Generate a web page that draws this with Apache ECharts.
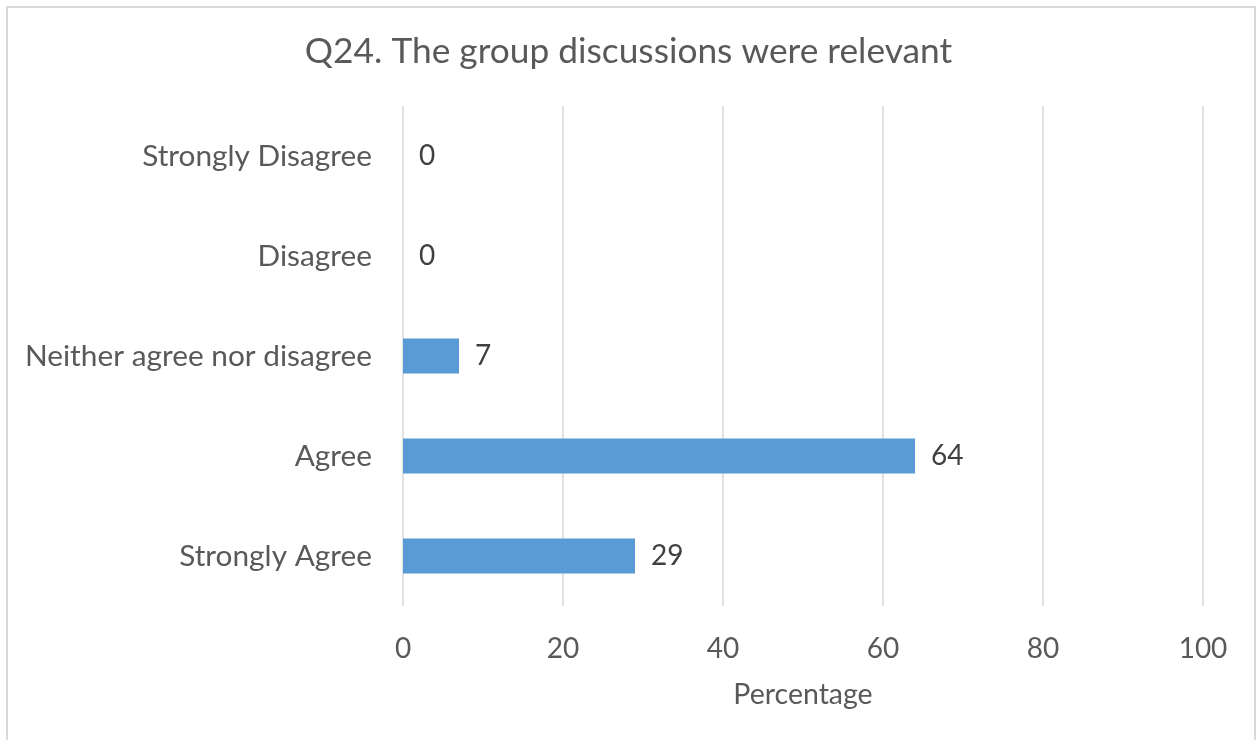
<!DOCTYPE html>
<html>
<head>
<meta charset="utf-8">
<script src="https://cdn.jsdelivr.net/npm/echarts@6/dist/echarts.min.js"></script>
<style>
  html, body { margin: 0; padding: 0; background: #ffffff; }
  #chart { width: 1257px; height: 740px; }
</style>
</head>
<body>
<div id="chart"></div>
<script>
// Survey responses, listed top to bottom
const categories = ['Strongly Disagree', 'Disagree', 'Neither agree nor disagree', 'Agree', 'Strongly Agree'];
const percentages = [0, 0, 7, 64, 29];
const xTicks = [0, 20, 40, 60, 80, 100];

const chart = echarts.init(document.getElementById('chart'));
const font = 'Lato, "Open Sans", sans-serif';

chart.setOption({
  backgroundColor: '#ffffff',
  animation: false,
  graphic: [{
    type: 'rect',
    shape: { x: 7, y: 7, width: 1248, height: 745 },
    style: { fill: 'none', stroke: '#d9d9d9', lineWidth: 2 },
    silent: true
  }],
  title: {
    text: 'Q24. The group discussions were relevant',
    left: 'center',
    top: 29,
    textStyle: { fontFamily: font, fontSize: 35.3, fontWeight: 'normal', color: '#595959' }
  },
  grid: { left: 403, right: 54, top: 106, bottom: 134, containLabel: false },
  xAxis: {
    type: 'value',
    min: xTicks[0],
    max: xTicks[xTicks.length - 1],
    interval: xTicks[1] - xTicks[0],
    name: 'Percentage',
    nameLocation: 'middle',
    nameGap: 74,
    nameTextStyle: { fontFamily: font, fontSize: 28.5, color: '#595959' },
    axisLine: { show: false },
    axisTick: { show: false },
    axisLabel: { fontFamily: font, fontSize: 28, color: '#595959', margin: 29 },
    splitLine: { show: true, lineStyle: { color: '#d9d9d9', width: 1.5 } }
  },
  yAxis: {
    type: 'category',
    data: categories,
    inverse: true,
    axisLine: { show: false },
    axisTick: { show: false },
    axisLabel: { fontFamily: font, fontSize: 29.8, color: '#595959', margin: 31 }
  },
  series: [{
    type: 'bar',
    data: percentages,
    barWidth: 35,
    itemStyle: { color: '#5b9bd5' },
    label: {
      show: true,
      position: 'right',
      distance: 16,
      fontFamily: font,
      fontSize: 28,
      color: '#404040'
    }
  }]
});
</script>
</body>
</html>
